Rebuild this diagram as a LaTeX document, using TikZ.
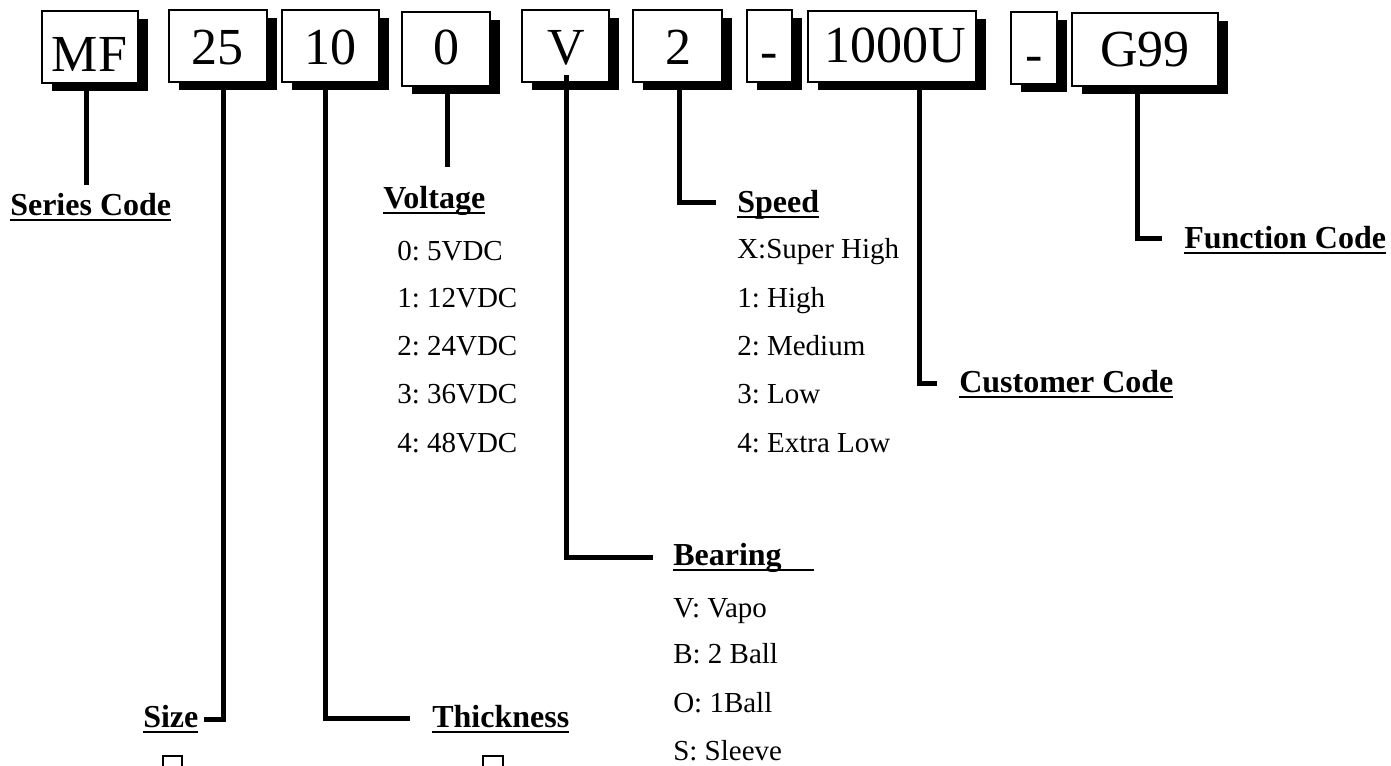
\documentclass[tikz,border=0pt]{standalone}
\usepackage{fontspec}
\setmainfont{Liberation Serif}
\usetikzlibrary{shadows}
\newcommand\myul[1]{\setbox0\hbox{#1}\rlap{\rule[-0.2em]{\wd0}{0.09em}}\box0}
\frenchspacing
\begin{document}
\begin{tikzpicture}[x=0.75pt,y=-0.75pt,
  codebox/.style={draw=black, line width=1.3pt, fill=white, inner sep=0pt,
    general shadow={fill=black, shadow xshift=7.5pt, shadow yshift=-6pt}},
  codetext/.style={inner sep=0pt, anchor=base, font=\fontsize{39}{40}\selectfont},
  head/.style={inner sep=0pt, anchor=base west, font=\fontsize{24}{26}\selectfont\bfseries},
  item/.style={inner sep=0pt, anchor=base west, font=\fontsize{21.75}{24}\selectfont},
  conn/.style={line width=3.75pt},
  glyphbox/.style={draw=black, line width=1pt}
]
\useasboundingbox (0,0) rectangle (1391,765);

% code boxes
\node[codebox, minimum width=72pt,   minimum height=54pt]   (mf)  at (90,47)     {};
\node[codebox, minimum width=73.5pt, minimum height=54pt]   (b25) at (218,46)    {};
\node[codebox, minimum width=72.75pt,minimum height=54pt]   (b10) at (330.5,46)  {};
\node[codebox, minimum width=66pt,   minimum height=55.5pt] (b0)  at (446,49)    {};
\node[codebox, minimum width=65.25pt,minimum height=54pt]   (bv)  at (565.5,46)  {};
\node[codebox, minimum width=66.75pt,minimum height=54pt]   (b2)  at (677.5,46)  {};
\node[codebox, minimum width=33.75pt,minimum height=54pt]   (bd1) at (769.5,46)  {};
\node[codebox, minimum width=126pt,  minimum height=53.25pt](bu)  at (892,46.5)  {};
\node[codebox, minimum width=34.5pt, minimum height=54pt]   (bd2) at (1034,48)   {};
\node[codebox, minimum width=109.5pt,minimum height=54.75pt](bg)  at (1145,49.5) {};

% box texts
\node[codetext] (tmf)  at (89.5,71) {MF};
\node[codetext] (t25)  at (217,64)  {25};
\node[codetext] (t10)  at (330,64)  {10};
\node[codetext] (t0)   at (446,64)  {0};
\node[codetext] (tv)   at (566,64)  {V};
\node[codetext] (t2)   at (678,64)  {2};
\node[codetext] (td1)  at (769.5,68) {-};
\node[codetext] (tu)   at (895,62)  {1000U};
\node[codetext] (td2)  at (1034,71) {-};
\node[codetext] (tg)   at (1145,66) {G99};

% headings
\node[head] (series) at (10,215)   {\myul{Series Code}};
\node[head] (volt)   at (383,208)  {\myul{Voltage}};
\node[head] (speed)  at (737,212)  {\myul{Speed}};
\node[head] (func)   at (1184,248) {\myul{Function Code}};
\node[head] (cust)   at (959,392)  {\myul{Customer Code}};
\node[head] (bear)   at (673,565)  {\myul{Bearing\hspace{1em}}};
\node[head] (size)   at (143,727)  {\myul{Size}};
\node[head] (thick)  at (432,727)  {\myul{Thickness}};

% voltage items
\node[item] (v0) at (397,260) {0: 5VDC};
\node[item] (v1) at (397,307) {1: 12VDC};
\node[item] (v2) at (397,355) {2: 24VDC};
\node[item] (v3) at (397,403) {3: 36VDC};
\node[item] (v4) at (397,452) {4: 48VDC};

% speed items
\node[item] (s0) at (737,258) {X:Super High};
\node[item] (s1) at (737,307) {1: High};
\node[item] (s2) at (737,355) {2: Medium};
\node[item] (s3) at (737,403) {3: Low};
\node[item] (s4) at (737,452) {4: Extra Low};

% bearing items
\node[item] (r0) at (673,617) {V: Vapo};
\node[item] (r1) at (673,663) {B: 2 Ball};
\node[item] (r2) at (673,712) {O: 1Ball};
\node[item] (r3) at (673,760) {S: Sleeve};

% connector coordinates
\coordinate (cmf) at (86,185);
\coordinate (c25) at (223,719);
\coordinate (c10) at (325.5,718);
\coordinate (c0)  at (447,167);
\coordinate (cv)  at (566,557);
\coordinate (cvt) at (566,75);
\coordinate (c2)  at (679,202);
\coordinate (cu)  at (919,383);
\coordinate (cg)  at (1137,238);

% connectors
\draw[conn] (mf.south -| cmf) -- (cmf);
\draw[conn] (b25.south -| c25) -- (c25) -- ([xshift=3.75pt]c25 -| size.east);
\draw[conn] (b10.south -| c10) -- (c10) -- ([xshift=-16.5pt]c10 -| thick.west);
\draw[conn] (b0.south -| c0) -- (c0);
\draw[conn] (cvt) -- (cv) -- ([xshift=-15pt]cv -| bear.west);
\draw[conn] (b2.south -| c2) -- (c2) -- ([xshift=-15.75pt]c2 -| speed.west);
\draw[conn] (bu.south -| cu) -- (cu) -- ([xshift=-16.5pt]cu -| cust.west);
\draw[conn] (bg.south -| cg) -- (cg) -- ([xshift=-16.5pt]cg -| func.west);

% small glyph boxes cut by the lower edge
\draw[glyphbox] (163,775) -- (163,756) -- (182,756) -- (182,775);
\draw[glyphbox] (483,775) -- (483,756) -- (503,756) -- (503,775);
\end{tikzpicture}
\end{document}
